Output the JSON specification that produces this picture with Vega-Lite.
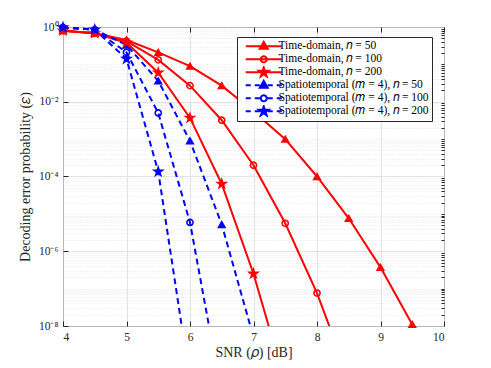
{
  "$schema": "https://vega.github.io/schema/vega-lite/v6.json",
  "width": 381,
  "height": 299,
  "autosize": {"type": "none"},
  "padding": {"left": 63, "top": 27, "right": 47, "bottom": 42},
  "background": "white",
  "config": {
    "font": "Liberation Serif",
    "view": {"stroke": "#262626", "strokeWidth": 1},
    "axis": {"labelFont": "Liberation Serif", "titleFont": "Liberation Serif", "labelColor": "#262626", "titleColor": "#262626", "tickColor": "#262626", "titleFontWeight": "normal"},
    "legend": {"labelFont": "Liberation Serif"}
  },
  "data": {
    "values": [
      {"series": "Time-domain, 𝑛 = 50", "snr": 4, "err": 0.8},
      {"series": "Time-domain, 𝑛 = 50", "snr": 4.5, "err": 0.68},
      {"series": "Time-domain, 𝑛 = 50", "snr": 5, "err": 0.45},
      {"series": "Time-domain, 𝑛 = 50", "snr": 5.5, "err": 0.21},
      {"series": "Time-domain, 𝑛 = 50", "snr": 6, "err": 0.09},
      {"series": "Time-domain, 𝑛 = 50", "snr": 6.5, "err": 0.027},
      {"series": "Time-domain, 𝑛 = 50", "snr": 7, "err": 0.0055},
      {"series": "Time-domain, 𝑛 = 50", "snr": 7.5, "err": 0.001},
      {"series": "Time-domain, 𝑛 = 50", "snr": 8, "err": 0.0001},
      {"series": "Time-domain, 𝑛 = 50", "snr": 8.5, "err": 7.6e-6},
      {"series": "Time-domain, 𝑛 = 50", "snr": 9, "err": 3.7e-7},
      {"series": "Time-domain, 𝑛 = 50", "snr": 9.5, "err": 1.1e-8},
      {"series": "Time-domain, 𝑛 = 100", "snr": 4, "err": 0.8},
      {"series": "Time-domain, 𝑛 = 100", "snr": 4.5, "err": 0.68},
      {"series": "Time-domain, 𝑛 = 100", "snr": 5, "err": 0.42},
      {"series": "Time-domain, 𝑛 = 100", "snr": 5.5, "err": 0.132},
      {"series": "Time-domain, 𝑛 = 100", "snr": 6, "err": 0.027},
      {"series": "Time-domain, 𝑛 = 100", "snr": 6.5, "err": 0.0032},
      {"series": "Time-domain, 𝑛 = 100", "snr": 7, "err": 0.0002},
      {"series": "Time-domain, 𝑛 = 100", "snr": 7.5, "err": 5.6e-6},
      {"series": "Time-domain, 𝑛 = 100", "snr": 8, "err": 7.6e-8},
      {"series": "Time-domain, 𝑛 = 100", "snr": 8.5, "err": 4e-10},
      {"series": "Time-domain, 𝑛 = 200", "snr": 4, "err": 0.8},
      {"series": "Time-domain, 𝑛 = 200", "snr": 4.5, "err": 0.68},
      {"series": "Time-domain, 𝑛 = 200", "snr": 5, "err": 0.38},
      {"series": "Time-domain, 𝑛 = 200", "snr": 5.5, "err": 0.06},
      {"series": "Time-domain, 𝑛 = 200", "snr": 6, "err": 0.0037},
      {"series": "Time-domain, 𝑛 = 200", "snr": 6.5, "err": 6.3e-5},
      {"series": "Time-domain, 𝑛 = 200", "snr": 7, "err": 2.5e-7},
      {"series": "Time-domain, 𝑛 = 200", "snr": 7.5, "err": 3e-10},
      {"series": "Spatiotemporal (𝑚 = 4), 𝑛 = 50", "snr": 4, "err": 0.97},
      {"series": "Spatiotemporal (𝑚 = 4), 𝑛 = 50", "snr": 4.5, "err": 0.85},
      {"series": "Spatiotemporal (𝑚 = 4), 𝑛 = 50", "snr": 5, "err": 0.33},
      {"series": "Spatiotemporal (𝑚 = 4), 𝑛 = 50", "snr": 5.5, "err": 0.036},
      {"series": "Spatiotemporal (𝑚 = 4), 𝑛 = 50", "snr": 6, "err": 0.0009},
      {"series": "Spatiotemporal (𝑚 = 4), 𝑛 = 50", "snr": 6.5, "err": 5.2e-6},
      {"series": "Spatiotemporal (𝑚 = 4), 𝑛 = 50", "snr": 7, "err": 5e-9},
      {"series": "Spatiotemporal (𝑚 = 4), 𝑛 = 100", "snr": 4, "err": 0.97},
      {"series": "Spatiotemporal (𝑚 = 4), 𝑛 = 100", "snr": 4.5, "err": 0.85},
      {"series": "Spatiotemporal (𝑚 = 4), 𝑛 = 100", "snr": 5, "err": 0.21},
      {"series": "Spatiotemporal (𝑚 = 4), 𝑛 = 100", "snr": 5.5, "err": 0.005},
      {"series": "Spatiotemporal (𝑚 = 4), 𝑛 = 100", "snr": 6, "err": 5.9e-6},
      {"series": "Spatiotemporal (𝑚 = 4), 𝑛 = 100", "snr": 6.5, "err": 1.4e-10},
      {"series": "Spatiotemporal (𝑚 = 4), 𝑛 = 200", "snr": 4, "err": 0.97},
      {"series": "Spatiotemporal (𝑚 = 4), 𝑛 = 200", "snr": 4.5, "err": 0.85},
      {"series": "Spatiotemporal (𝑚 = 4), 𝑛 = 200", "snr": 5, "err": 0.14},
      {"series": "Spatiotemporal (𝑚 = 4), 𝑛 = 200", "snr": 5.5, "err": 0.000135},
      {"series": "Spatiotemporal (𝑚 = 4), 𝑛 = 200", "snr": 6, "err": 3.5e-10}
    ]
  },
  "layer": [
    {
      "transform": [{"filter": "indexof(datum.series, 'Time') == 0"}],
      "mark": {"type": "line", "strokeWidth": 2, "clip": true},
      "encoding": {
        "x": {
          "field": "snr", "type": "quantitative",
          "scale": {"domain": [4, 10], "nice": false, "zero": false},
          "axis": {"orient": "bottom", "values": [4, 5, 6, 7, 8, 9, 10], "title": "SNR (𝜌) [dB]", "grid": true, "gridColor": "#dcdcdc", "gridWidth": 0.8, "domain": false, "tickSize": -5, "labelPadding": 10, "labelFontSize": 11.5, "titleFontSize": 14, "titlePadding": 3}
        },
        "y": {
          "field": "err", "type": "quantitative",
          "scale": {"type": "log", "domain": [1e-8, 1], "nice": false},
          "axis": {"orient": "left", "values": [1, 0.01, 0.0001, 1e-6, 1e-8], "labelExpr": "{'0':'10⁰','-2':'10⁻²','-4':'10⁻⁴','-6':'10⁻⁶','-8':'10⁻⁸'}['' + round(log(datum.value)/LN10)]", "title": "Decoding error probability (𝜀)", "grid": true, "gridColor": "#dcdcdc", "gridWidth": 0.8, "domain": false, "tickSize": -5, "labelPadding": 10, "labelFontSize": 11.5, "titleFontSize": 14, "titlePadding": 6}
        },
        "color": {
          "field": "series", "type": "nominal",
          "scale": {
            "domain": ["Time-domain, 𝑛 = 50", "Time-domain, 𝑛 = 100", "Time-domain, 𝑛 = 200", "Spatiotemporal (𝑚 = 4), 𝑛 = 50", "Spatiotemporal (𝑚 = 4), 𝑛 = 100", "Spatiotemporal (𝑚 = 4), 𝑛 = 200"],
            "range": ["#ff0000", "#ff0000", "#ff0000", "#0000ff", "#0000ff", "#0000ff"]
          },
          "legend": {
            "orient": "none", "legendX": 174, "legendY": 10, "title": null,
            "fillColor": "white", "strokeColor": "#262626", "padding": 3,
            "labelFontSize": 11.5, "labelColor": "#000000", "labelLimit": 300,
            "symbolSize": 4, "symbolOffset": 18, "labelOffset": 9, "rowPadding": 0, "clipHeight": 12.6,
            "encode": {
              "symbols": {
                "update": {
                  "shape": {"signal": "(datum.index < 3 ? 'M-18,0L18,0' : 'M-18,0L-13,0M-9,0L-4,0M4,0L9,0M13,0L18,0') + ['M0,-4.5L4,2.5L-4,2.5Z', 'M-3,0A3,3 0 1,0 3,0A3,3 0 1,0 -3,0Z', 'M0,-5L1.12,-1.55L4.76,-1.55L1.82,0.59L2.94,4.05L0,1.91L-2.94,4.05L-1.82,0.59L-4.76,-1.55L-1.12,-1.55Z'][datum.index % 3]"},
                  "fill": {"signal": "datum.index % 3 == 1 ? 'transparent' : (datum.index < 3 ? '#ff0000' : '#0000ff')"},
                  "strokeWidth": {"value": 2},
                  "strokeDash": {"value": [1, 0]},
                  "size": {"value": 4},
                  "opacity": {"value": 1}
                }
              }
            }
          }
        }
      }
    },
    {
      "transform": [{"filter": "indexof(datum.series, 'Spatio') == 0"}],
      "mark": {"type": "line", "strokeWidth": 2, "strokeDash": [6, 4], "clip": true},
      "encoding": {
        "x": {"field": "snr", "type": "quantitative", "axis": null},
        "y": {"field": "err", "type": "quantitative", "axis": null},
        "color": {"field": "series", "type": "nominal"}
      }
    },
    {
      "transform": [{"filter": "datum.err >= 1e-8 && test(/= 50$/, datum.series)"}],
      "mark": {"type": "point", "shape": "triangle-up", "filled": false, "fill": {"expr": "indexof(datum.series, 'Time') == 0 ? '#ff0000' : '#0000ff'"}, "strokeWidth": 1.5, "size": 45, "opacity": 1},
      "encoding": {
        "x": {
          "field": "snr", "type": "quantitative",
          "axis": {"orient": "top", "values": [4, 5, 6, 7, 8, 9, 10], "labels": false, "title": null, "grid": false, "domain": false, "tickSize": -5}
        },
        "y": {
          "field": "err", "type": "quantitative",
          "axis": {"orient": "right", "values": [2e-8, 3e-8, 4e-8, 5e-8, 6e-8, 7e-8, 8e-8, 9e-8, 1e-7, 2e-7, 3e-7, 4e-7, 5e-7, 6e-7, 7e-7, 8e-7, 9e-7, 2e-6, 3e-6, 4e-6, 5e-6, 6e-6, 7e-6, 8e-6, 9e-6, 1e-5, 2e-5, 3e-5, 4e-5, 5e-5, 6e-5, 7e-5, 8e-5, 9e-5, 2e-4, 3e-4, 4e-4, 5e-4, 6e-4, 7e-4, 8e-4, 9e-4, 1e-3, 2e-3, 3e-3, 4e-3, 5e-3, 6e-3, 7e-3, 8e-3, 9e-3, 2e-2, 3e-2, 4e-2, 5e-2, 6e-2, 7e-2, 8e-2, 9e-2, 1e-1, 2e-1, 3e-1, 4e-1, 5e-1, 6e-1, 7e-1, 8e-1, 9e-1], "labels": false, "title": null, "grid": true, "gridDash": [1, 2], "gridColor": "#d8d8d8", "gridWidth": 0.6, "domain": false, "tickSize": -3}
        },
        "color": {"field": "series", "type": "nominal"}
      }
    },
    {
      "transform": [{"filter": "datum.err >= 1e-8 && test(/= 100$/, datum.series)"}],
      "mark": {"type": "point", "shape": "circle", "filled": false, "strokeWidth": 1.6, "size": 38, "opacity": 1},
      "encoding": {
        "x": {"field": "snr", "type": "quantitative", "axis": null},
        "y": {"field": "err", "type": "quantitative", "axis": null},
        "color": {"field": "series", "type": "nominal"}
      }
    },
    {
      "transform": [{"filter": "datum.err >= 1e-8 && test(/= 200$/, datum.series)"}],
      "mark": {"type": "point", "shape": "M0,-1L0.225,-0.309L0.951,-0.309L0.363,0.118L0.588,0.809L0,0.382L-0.588,0.809L-0.363,0.118L-0.951,-0.309L-0.225,-0.309Z", "filled": false, "fill": {"expr": "indexof(datum.series, 'Time') == 0 ? '#ff0000' : '#0000ff'"}, "strokeWidth": 1.5, "size": 80, "opacity": 1},
      "encoding": {
        "x": {"field": "snr", "type": "quantitative", "axis": null},
        "y": {"field": "err", "type": "quantitative", "axis": null},
        "color": {"field": "series", "type": "nominal"}
      }
    }
  ],
  "resolve": {"axis": {"x": "independent", "y": "independent"}}
}
